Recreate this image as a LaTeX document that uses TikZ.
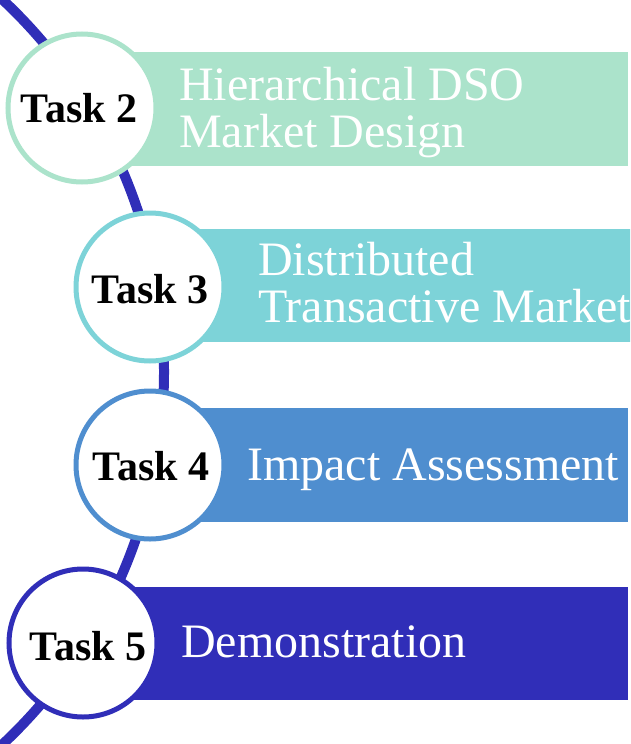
\documentclass[tikz,border=0pt]{standalone}
\usepackage{fontspec}
\setmainfont{Liberation Serif}
\definecolor{mint}{HTML}{ABE3CB}
\definecolor{teal}{HTML}{7DD3D8}
\definecolor{sky}{HTML}{4F8ECF}
\definecolor{indigo}{HTML}{302EB8}
\tikzset{
  taskring/.style={circle, draw=#1, line width=5pt, fill=white, minimum size=148pt, inner sep=0pt},
  tasklabel/.style={anchor=base, inner sep=0pt, font=\fontsize{42}{42}\selectfont\bfseries},
  bandtext/.style={anchor=base west, inner sep=0pt, text=white, align=left,
    font=\fontsize{48}{47}\selectfont},
}
\begin{document}
\begin{tikzpicture}[x=1pt, y=-1pt]
\useasboundingbox (0,0) rectangle (630,744);
\clip (0,0) rectangle (630,744);

% timeline arc running behind the task circles
\coordinate (hub) at (-346,372);
\draw[indigo, line width=10pt] (hub) ++(-48:510) arc[start angle=-48, end angle=48, radius=510];

% coloured bands
\fill[mint]   (130,52)  rectangle (628,166);
\fill[teal]   (200,229) rectangle (632,342);
\fill[sky]    (200,408) rectangle (628,522);
\fill[indigo] (130,587) rectangle (628,700);

% task circles
\node[taskring=mint]   (c2) at (82,108) {};
\node[taskring=teal]   (c3) at (150,287) {};
\node[taskring=sky]    (c4) at (150,465) {};
\node[taskring=indigo] (c5) at (83,643) {};

\node[tasklabel] (t2) at (79,122) {Task 2};
\node[tasklabel] (t3) at (150,303) {Task 3};
\node[tasklabel] (t4) at (151,480) {Task 4};
\node[tasklabel] (t5) at (88,660) {Task 5};

% band texts (anchored at the baseline of the last line)
\node[bandtext] (l2) at (179,147) {Hierarchical DSO\\Market Design};
\node[bandtext] (l3) at (258,322) {Distributed\\Transactive Market};
\node[bandtext] (l4) at (247,480) {Impact Assessment};
\node[bandtext] (l5) at (181,657) {Demonstration};
\end{tikzpicture}
\end{document}
